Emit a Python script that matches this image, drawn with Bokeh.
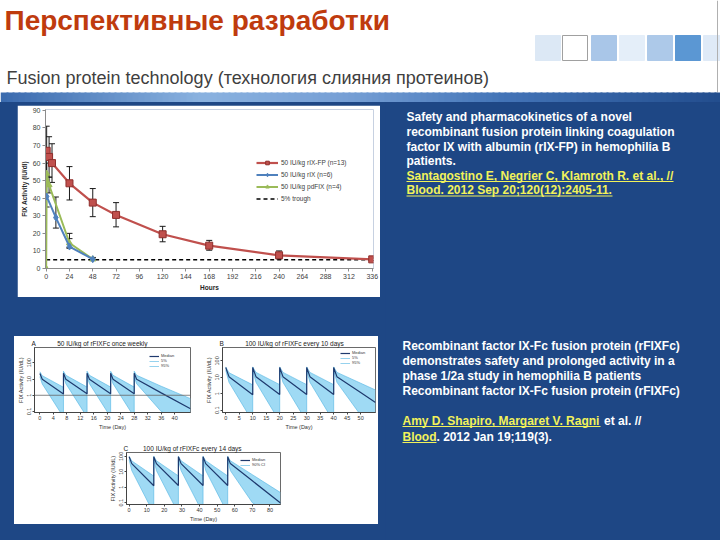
from bokeh.plotting import figure
from bokeh.models import (Range1d, FixedTicker, ColumnDataSource, Whisker, TeeHead,
                          Legend, LegendItem, Span, Spacer, CustomJSTickFormatter)
from bokeh.layouts import column, row
from bokeh.embed import file_html
from bokeh.resources import INLINE
from bokeh.core.properties import value

FONT = "Liberation Sans"
BLUE_BG = "#1E4785"
TITLE_RED = "#BF3B0E"
RED = "#C0504D"
BLUE = "#4F81BD"
GREEN = "#9BBB59"
BAND = "#8ED3F2"
BAND_EDGE = "#4FB3E3"
NAVY = "#1F3A6E"
YELLOW = "#F2F25A"

# ---------------- slide texts ----------------
slide_title = "Перспективные разработки"
slide_subtitle = "Fusion protein technology (технология слияния протеинов)"

ref1_lines = ["Safety and pharmacokinetics of a novel",
              "recombinant fusion protein linking coagulation",
              "factor IX with albumin (rIX-FP) in hemophilia B",
              "patients."]
ref1_cite = ["Santagostino E, Negrier C, Klamroth R. et al., //",
             "Blood. 2012 Sep 20;120(12):2405-11."]
ref2_lines = ["Recombinant factor IX-Fc fusion protein (rFIXFc)",
              "demonstrates safety and prolonged activity in a",
              "phase 1/2a study in hemophilia B patients",
              "Recombinant factor IX-Fc fusion protein (rFIXFc)"]
ref2_cite_a = ["Amy D. Shapiro, Margaret V. Ragni", "Blood"]
ref2_cite_b = ["et al. //", ". 2012 Jan 19;119(3)."]

# ---------------- top chart: FIX activity (IU/dl) vs hours ----------------
hour_ticks = [0, 24, 48, 72, 96, 120, 144, 168, 192, 216, 240, 264, 288, 312, 336]
activity_ticks = [0, 10, 20, 30, 40, 50, 60, 70, 80, 90]

rixfp_hours = [0.5, 3, 6, 24, 48, 72, 120, 168, 240, 336]
rixfp_mean = [67, 63.5, 60, 48.5, 37.5, 30.5, 19.5, 13, 7.5, 5.2]
rixfp_upper = [81, 75, 71, 58, 45.5, 37.5, 24, 16, 10, 6]
rixfp_lower = [53, 52, 49, 39, 29.5, 23.7, 15.2, 10.4, 5.5, 4.5]

rfix_hours = [0.5, 10, 24, 48]
rfix_mean = [41, 29, 12.5, 5.3]
rfix_upper = [47, 40.7, 20, 6.3]
rfix_lower = [35, 23, 11.5, 4.5]

pdfix_hours = [0, 0.5, 3, 24, 48]
pdfix_mean = [0, 54, 47.5, 14.5, 5.3]
pdfix_upper = [0, 60, 52, 17, 6]
pdfix_lower = [0, 48, 43, 12, 4.6]

trough_hours = [0, 336]
trough_level = [5, 5]

top_legend = ["50 IU/kg rIX-FP (n=13)", "50 IU/kg rIX (n=6)",
              "50 IU/kg pdFIX (n=4)", "5% trough"]

# ---------------- simulated rFIXFc panels (log scale) ----------------
log_ticks = [0.1, 1, 10, 100]

A_caption = "50 IU/kg of rFIXFc once weekly"
A_ticks = [0, 4, 8, 12, 16, 20, 24, 28, 32, 36, 40]
A_days = [0, 0.7, 7, 7, 7.7, 14, 14, 14.7, 21, 21, 21.7, 28, 28, 28.7, 36, 44.7]
A_median = [22, 9.6, 1.2, 23, 9.8, 1.25, 23, 9.8, 1.25, 23, 9.8, 1.25, 23, 9.8, 1.4, 0.15]
A_p95 = [28, 16, 3.1, 30, 17, 3.2, 30, 17, 3.2, 30, 17, 3.2, 30, 17, 3.6, 0.62]
A_p5 = [13.8, 5.0, 0.045, 14, 5.2, 0.045, 14, 5.2, 0.045, 14, 5.2, 0.045, 14, 5.2, 0.1, 0.018]

B_caption = "100 IU/kg of rFIXFc every 10 days"
B_ticks = [0, 5, 10, 15, 20, 25, 30, 35, 40, 45, 50]
B_days = [0, 1.2, 10, 10, 11.2, 20, 20, 21.2, 30, 30, 31.2, 40, 40, 41.2, 50, 55.5]
B_median = [40, 11, 0.87, 40, 11, 0.9, 40, 11, 0.9, 40, 11, 0.9, 40, 11, 1.2, 0.3]
B_p95 = [43, 19, 3.5, 43, 20, 3.6, 43, 20, 3.6, 43, 20, 3.6, 43, 20, 4.4, 1.7]
B_p5 = [27, 5, 0.02, 27, 5, 0.02, 27, 5, 0.02, 27, 5, 0.02, 27, 5, 0.05, 0.01]

C_caption = "100 IU/kg of rFIXFc every 14 days"
C_ticks = [0, 10, 20, 30, 40, 50, 60, 70, 80]
C_days = [0, 1.5, 14, 14, 15.5, 28, 28, 29.5, 42, 42, 43.5, 56, 56, 57.5, 70, 86]
C_median = [95, 34, 1.25, 96, 34, 1.3, 96, 34, 1.3, 96, 34, 1.3, 96, 34, 2.6, 0.095]
C_p95 = [100, 51, 5.3, 100, 52, 5.4, 100, 52, 5.4, 100, 52, 5.4, 100, 52, 6.5, 0.45]
C_p5 = [60, 12, 0.02, 60, 12, 0.02, 60, 12, 0.02, 60, 12, 0.02, 60, 12, 0.1, 0.005]

# ---------------- header decorations ----------------
sq_left = [535, 562, 591, 619, 647, 675, 703]
sq_colors = ["#DCE8F5", "#FFFFFF", "#A9C6E8", "#E4EEF9", "#ADC9E9", "#5B97D3", "#DFEAF7"]
sq_lines = ["#DCE8F5", "#A0A0A0", "#A9C6E8", "#E4EEF9", "#ADC9E9", "#5B97D3", "#DFEAF7"]


def hex2rgb(h):
    h = h.lstrip("#")
    return tuple(int(h[i:i + 2], 16) for i in (0, 2, 4))


def grad(stops, x):
    for (x0, c0), (x1, c1) in zip(stops[:-1], stops[1:]):
        if x0 <= x <= x1:
            f = (x - x0) / (x1 - x0)
            a, b = hex2rgb(c0), hex2rgb(c1)
            return "#%02x%02x%02x" % tuple(int(a[i] + (b[i] - a[i]) * f) for i in range(3))
    return stops[-1][1]


hdr = figure(width=720, height=102, x_range=Range1d(0, 720), y_range=Range1d(102, 0),
             output_backend="svg", toolbar_location=None, min_border=0,
             x_axis_location=None, y_axis_location=None, outline_line_color=None,
             background_fill_color="white", border_fill_color="white")
hdr.grid.visible = False
hdr.text(x=[4], y=[20], text=[slide_title], text_font=value(FONT), text_font_style="bold",
         text_font_size="28px", text_color=TITLE_RED, text_baseline="middle")
hdr.text(x=[6], y=[77], text=[slide_subtitle], text_font=value(FONT),
         text_font_size="18px", text_color="#3F3F3F", text_baseline="middle")
hdr.quad(left=sq_left, right=[v + 25 for v in sq_left], top=[35] * 7, bottom=[60] * 7,
         fill_color=sq_colors, line_color=sq_lines, line_width=1)
hdr.segment(x0=[717], y0=[0], x1=[717], y1=[92], line_color="#B0B0B0", line_width=1)
band_stops = [(0, "#3A6AAE"), (200, "#8AB2E0"), (350, "#769FD5"), (500, "#4475B8"), (720, "#234E8E")]
gx = list(range(0, 720, 6))
band_cols = [grad(band_stops, v + 3) for v in gx]
hdr.quad(left=gx, right=[v + 8 for v in gx], top=[92] * len(gx), bottom=[102] * len(gx),
         fill_color=band_cols, line_color=None)


def style_axis(ax, size="7px", lsize="6.5px"):
    ax.axis_line_color = "#8C8C8C"
    ax.major_tick_line_color = "#8C8C8C"
    ax.minor_tick_line_color = None
    ax.major_tick_in = 0
    ax.major_tick_out = 3
    ax.major_label_text_font = FONT
    ax.major_label_text_font_size = size
    ax.major_label_text_color = "#404040"
    ax.axis_label_text_font = FONT
    ax.axis_label_text_font_style = "bold"
    ax.axis_label_text_font_size = lsize
    ax.axis_label_text_color = "#262626"
    ax.axis_label_standoff = 2
    ax.major_label_standoff = 2


# ---------------- top chart ----------------
p1 = figure(width=363, height=192, x_range=Range1d(-0.7, 337.3), y_range=Range1d(0, 90.5),
            output_backend="svg", toolbar_location=None,
            min_border_left=25, min_border_right=7, min_border_top=4, min_border_bottom=29,
            background_fill_color="white", border_fill_color="white", outline_line_color=None)
p1.grid.visible = False
p1.xaxis[0].ticker = FixedTicker(ticks=hour_ticks)
p1.xaxis[0].axis_label = "Hours"
p1.yaxis[0].ticker = FixedTicker(ticks=activity_ticks)
p1.yaxis[0].axis_label = "FIX Activity (IU/dl)"
style_axis(p1.xaxis[0])
style_axis(p1.yaxis[0])


def add_err(p, t, lo, hi):
    src = ColumnDataSource(data=dict(base=t, lower=lo, upper=hi))
    p.add_layout(Whisker(source=src, base="base", lower="lower", upper="upper",
                         line_color="#1A1A1A", line_width=1,
                         upper_head=TeeHead(size=6, line_color="#1A1A1A", line_width=1),
                         lower_head=TeeHead(size=6, line_color="#1A1A1A", line_width=1)))


add_err(p1, rixfp_hours, rixfp_lower, rixfp_upper)
add_err(p1, rfix_hours, rfix_lower, rfix_upper)
add_err(p1, pdfix_hours, pdfix_lower, pdfix_upper)

tr = p1.line(trough_hours, trough_level, line_color="black", line_width=1.5, line_dash="4 3")
g_l = p1.line(pdfix_hours, pdfix_mean, line_color=GREEN, line_width=2)
g_m = p1.scatter(pdfix_hours, pdfix_mean, marker="triangle", size=6, fill_color=GREEN, line_color=GREEN)
b_l = p1.line(rfix_hours, rfix_mean, line_color=BLUE, line_width=2)
b_m = p1.scatter(rfix_hours, rfix_mean, marker="diamond", size=7, fill_color=BLUE, line_color=BLUE)
r_l = p1.line(rixfp_hours, rixfp_mean, line_color=RED, line_width=2.2)
r_m = p1.scatter(rixfp_hours, rixfp_mean, marker="square", size=7, fill_color=RED, line_color="#8E2F2C")

leg = Legend(items=[LegendItem(label=top_legend[0], renderers=[r_l, r_m]),
                    LegendItem(label=top_legend[1], renderers=[b_l, b_m]),
                    LegendItem(label=top_legend[2], renderers=[g_l, g_m]),
                    LegendItem(label=top_legend[3], renderers=[tr])],
             location=(211, 65), label_text_font=FONT, label_text_font_size="6.5px",
             label_text_color="#404040", glyph_width=22, glyph_height=9, label_height=9,
             spacing=3, padding=0, margin=0, label_standoff=3,
             background_fill_alpha=0, border_line_color=None)
p1.add_layout(leg)


# ---------------- simulated panels ----------------
def pk_panel(width, height, borders, x_rng, y_rng, xticks, label, gap, caption,
             days, med, p5, p95, names, leg_loc, ref_one=False):
    p = figure(width=width, height=height, x_range=Range1d(*x_rng), y_range=Range1d(*y_rng),
               y_axis_type="log", output_backend="svg", toolbar_location=None,
               min_border_top=borders[0], min_border_right=borders[1],
               min_border_bottom=borders[2], min_border_left=borders[3],
               background_fill_color="white", border_fill_color="white",
               outline_line_color="#444444", outline_line_width=0.8)
    p.grid.visible = False
    p.title.text = label + gap + caption
    p.title.align = "left"
    p.title.offset = -3
    p.title.standoff = 1
    p.title.text_font = FONT
    p.title.text_font_size = "6.5px"
    p.title.text_font_style = "normal"
    p.title.text_color = "#222222"
    xa, ya = p.xaxis[0], p.yaxis[0]
    xa.ticker = FixedTicker(ticks=xticks)
    ya.ticker = FixedTicker(ticks=log_ticks)
    ya.formatter = CustomJSTickFormatter(code="return tick.toString()")
    xa.axis_label = "Time (Day)"
    ya.axis_label = "FIX Activity (IU/dL)"
    for ax in (xa, ya):
        ax.axis_line_color = "#444444"
        ax.major_tick_line_color = "#444444"
        ax.minor_tick_line_color = None
        ax.major_tick_in = 0
        ax.major_tick_out = 2
        ax.major_label_text_font = FONT
        ax.major_label_text_font_size = "5.5px"
        ax.major_label_text_color = "#333333"
        ax.major_label_standoff = 1
        ax.axis_label_text_font = FONT
        ax.axis_label_text_font_style = "normal"
        ax.axis_label_text_font_size = "5.5px"
        ax.axis_label_text_color = "#333333"
        ax.axis_label_standoff = 1
    ya.major_label_orientation = "vertical"
    if ref_one:
        p.add_layout(Span(location=1, dimension="width", line_color="#666666", line_width=0.8))
    p.varea(x=days, y1=p5, y2=p95, fill_color=BAND, fill_alpha=0.85)
    lo = p.line(days, p5, line_color=BAND_EDGE, line_width=0.6)
    hi = p.line(days, p95, line_color=BAND_EDGE, line_width=0.6)
    md = p.line(days, med, line_color=NAVY, line_width=1.2)
    rends = [md, lo, hi]
    items = [LegendItem(label=n, renderers=[r]) for n, r in zip(names, rends)]
    lg = Legend(items=items, location=leg_loc, label_text_font=FONT, label_text_font_size="4px",
                label_text_color="#333333", glyph_width=10, glyph_height=4, label_height=4,
                spacing=0, padding=1, margin=0, label_standoff=2,
                background_fill_alpha=0, border_line_color=None)
    p.add_layout(lg)
    return p


EM = "\u2003"
NB = "\u00a0"
pA = pk_panel(186, 96, (11, 10, 19, 19), (-1.6, 44.7), (0.087, 870), A_ticks, "A",
              EM * 3 + NB, A_caption, A_days, A_median, A_p5, A_p95,
              ["Median", "5%", "95%"], (115, 44), ref_one=True)
pB = pk_panel(178, 96, (11, 3, 19, 22), (-1.2, 55.5), (0.073, 650), B_ticks, "B",
              EM * 3 + NB, B_caption, B_days, B_median, B_p5, B_p95,
              ["Median", "5%", "95%"], (118, 47))
pC = pk_panel(190, 92, (20, 10, 14, 26), (-1.5, 86), (0.076, 178), C_ticks, "C",
              EM * 2 + NB, C_caption, C_days, C_median, C_p5, C_p95,
              ["Median", "90% CI"], (114, 37))

# ---------------- right-hand text ----------------
txt = figure(width=335, height=438, x_range=Range1d(385, 720), y_range=Range1d(540, 102),
             output_backend="svg", toolbar_location=None, min_border=0,
             x_axis_location=None, y_axis_location=None, outline_line_color=None,
             background_fill_color=BLUE_BG, border_fill_color=BLUE_BG)
txt.grid.visible = False
kw = dict(text_font=value(FONT), text_font_style="bold", text_font_size="12px",
          text_baseline="middle", text_align="left")
txt.text(x=[406] * 4, y=[116.7, 131.5, 146, 160.3], text=ref1_lines, text_color="white", **kw)
txt.text(x=[406] * 2, y=[175, 189.5], text=ref1_cite, text_color=YELLOW, **kw)
txt.segment(x0=[406, 406], y0=[181, 195.5], x1=[673, 612], y1=[181, 195.5],
            line_color=YELLOW, line_width=1)
txt.text(x=[402] * 4, y=[345, 360, 375, 390], text=ref2_lines, text_color="white", **kw)
txt.text(x=[402, 402], y=[420, 436], text=ref2_cite_a, text_color=YELLOW, **kw)
txt.text(x=[603.5, 436], y=[420, 436], text=ref2_cite_b, text_color="white", **kw)
txt.segment(x0=[402, 402], y0=[426, 442], x1=[600, 436], y1=[426, 442],
            line_color=YELLOW, line_width=1)

# ---------------- layout ----------------
bottom_panel = column(row(pA, pB),
                      row(Spacer(width=86, height=92), pC, Spacer(width=88, height=92)),
                      styles={"background-color": "white"})
left_col = column(Spacer(width=385, height=3),
                  row(Spacer(width=17, height=192), p1, Spacer(width=5, height=192)),
                  Spacer(width=385, height=39),
                  row(Spacer(width=14, height=188), bottom_panel, Spacer(width=7, height=188)),
                  Spacer(width=385, height=16),
                  styles={"background-color": BLUE_BG})
body = row(left_col, txt, styles={"background-color": BLUE_BG})
page = column(hdr, body)

open("out.html", "w").write(file_html(page, INLINE, title="Перспективные разработки"))
